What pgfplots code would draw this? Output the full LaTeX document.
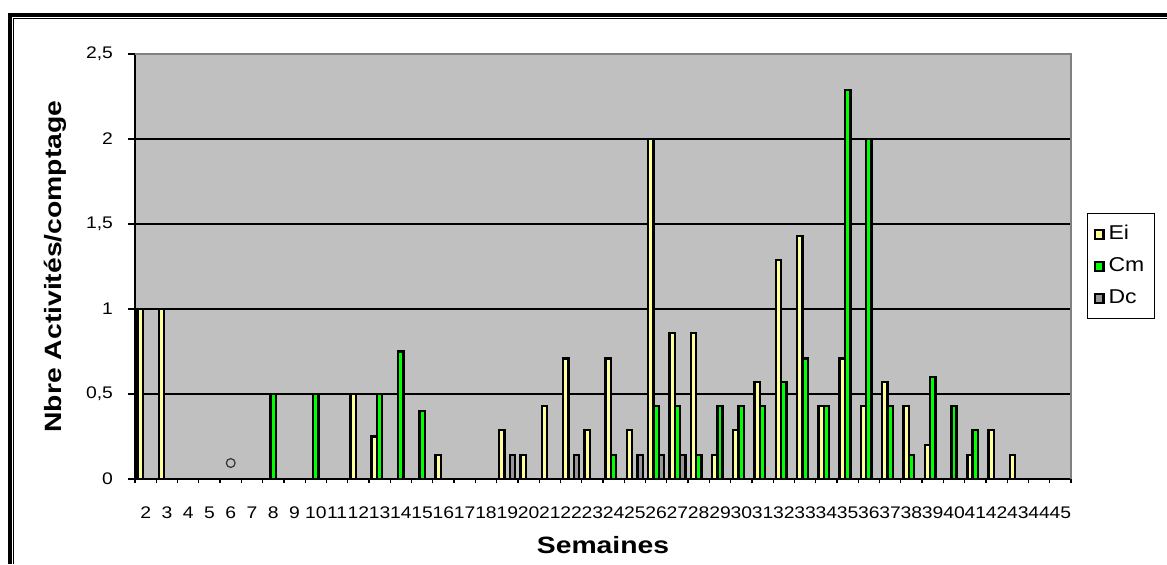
\documentclass[border=0pt]{standalone}
\usepackage{fontspec}
\setmainfont{Liberation Sans}[FakeStretch=1.15]
\newfontfamily\titlefont{Liberation Sans}[FakeStretch=1.2]
\usepackage{pgfplots}
\pgfplotsset{compat=1.18}
\definecolor{bgGray}{HTML}{C0C0C0}
\definecolor{frameGray}{HTML}{808080}
\definecolor{eiCol}{HTML}{FFFF99}
\definecolor{cmCol}{HTML}{00FF00}
\definecolor{dcCol}{HTML}{969696}
\begin{document}
\begin{tikzpicture}
\useasboundingbox (0,0) rectangle (583.5pt,282pt);
\fill[white] (0,0) rectangle (583.5pt,282pt);
\draw[line width=1.7pt] (5pt,0) -- (5pt,274.5pt) -- (583.5pt,274.5pt);
\draw[line width=0.4pt] (6.6pt,0) -- (6.6pt,272.9pt) -- (583.5pt,272.9pt);
\begin{axis}[
  at={(67.5pt,42.5pt)}, anchor=south west,
  scale only axis, width=468pt, height=212.5pt,
  xmin=-0.5, xmax=43.5, ymin=0, ymax=2.5,
  ybar=0pt, bar width=0.25,
  axis background/.style={fill=bgGray},
  axis x line*=bottom, axis y line*=left,
  axis line style={black, line width=0.6pt},
  tick align=outside,
  xtick={0,...,43},
  xticklabels={2,3,4,5,6,7,8,9,10,11,12,13,14,15,16,17,18,19,20,21,22,23,24,25,26,27,28,29,30,31,32,33,34,35,36,37,38,39,40,41,42,43,44,45},
  minor xtick={-0.5,0.5,...,43.5},
  major x tick style={draw=none},
  minor tick length=2.2pt,
  ytick={0,0.5,1,1.5,2,2.5},
  major tick length=3.5pt,
  tick style={black, line width=0.6pt},
  ymajorgrids, grid style={black, line width=0.6pt},
  /pgf/number format/assume math mode=true,
  /pgf/number format/use comma,
  yticklabel style={/pgf/number format/fixed, font=\fontsize{8.4}{10}\selectfont, xshift=-4pt},
  xticklabel style={font=\fontsize{8.4}{10}\selectfont, yshift=-7pt, inner xsep=0pt},
  xlabel={\titlefont\bfseries Semaines},
  ylabel={\titlefont\bfseries Nbre Activités/comptage},
  xlabel style={at={(axis description cs:0.5,-0.155)}, anchor=center, font=\fontsize{11.8}{14}\selectfont},
  ylabel style={at={(axis description cs:-0.0855,0.5)}, anchor=center, font=\fontsize{11.8}{14}\selectfont},
  legend style={at={(1.0171,0.626)}, anchor=north west, draw=black, line width=0.5pt, fill=white,
    font=\fontsize{10}{12}\selectfont, row sep=3.5pt, inner xsep=3pt, inner ysep=4pt},
  legend cell align=left,
  legend image code/.code={\draw[#1, line width=1.1pt] (0pt,-2.3pt) rectangle (4.4pt,2.3pt);},
  clip=false,
]
\addplot[fill=eiCol, draw=black, line width=1.2pt] coordinates {
 (0,1) (1,1) (10,0.5) (11,0.25) (14,0.14) (17,0.29) (18,0.14) (19,0.43) (20,0.71)
 (21,0.29) (22,0.71) (23,0.29) (24,2) (25,0.86) (26,0.86) (27,0.14) (28,0.29)
 (29,0.57) (30,1.29) (31,1.43) (32,0.43) (33,0.71) (34,0.43) (35,0.57) (36,0.43)
 (37,0.2) (39,0.14) (40,0.29) (41,0.14)};
\addlegendentry{Ei}
\addplot[fill=cmCol, draw=black, line width=1.2pt] coordinates {
 (6,0.5) (8,0.5) (11,0.5) (12,0.75) (13,0.4) (22,0.14) (24,0.43) (25,0.43) (26,0.14)
 (27,0.43) (28,0.43) (29,0.43) (30,0.57) (31,0.71) (32,0.43) (33,2.29) (34,2)
 (35,0.43) (36,0.14) (37,0.6) (38,0.43) (39,0.29)};
\addlegendentry{Cm}
\addplot[fill=dcCol, draw=black, line width=1.2pt] coordinates {
 (17,0.14) (20,0.14) (23,0.14) (24,0.14) (25,0.14)};
\addlegendentry{Dc}
\addplot[only marks, mark=o, mark size=2.2pt, draw=black!80, line width=0.6pt, forget plot] coordinates {(4,0.094)};
\draw[frameGray, line width=1.3pt] (rel axis cs:0,1) -- (rel axis cs:1,1) -- (rel axis cs:1,0);
\end{axis}
\end{tikzpicture}
\end{document}
